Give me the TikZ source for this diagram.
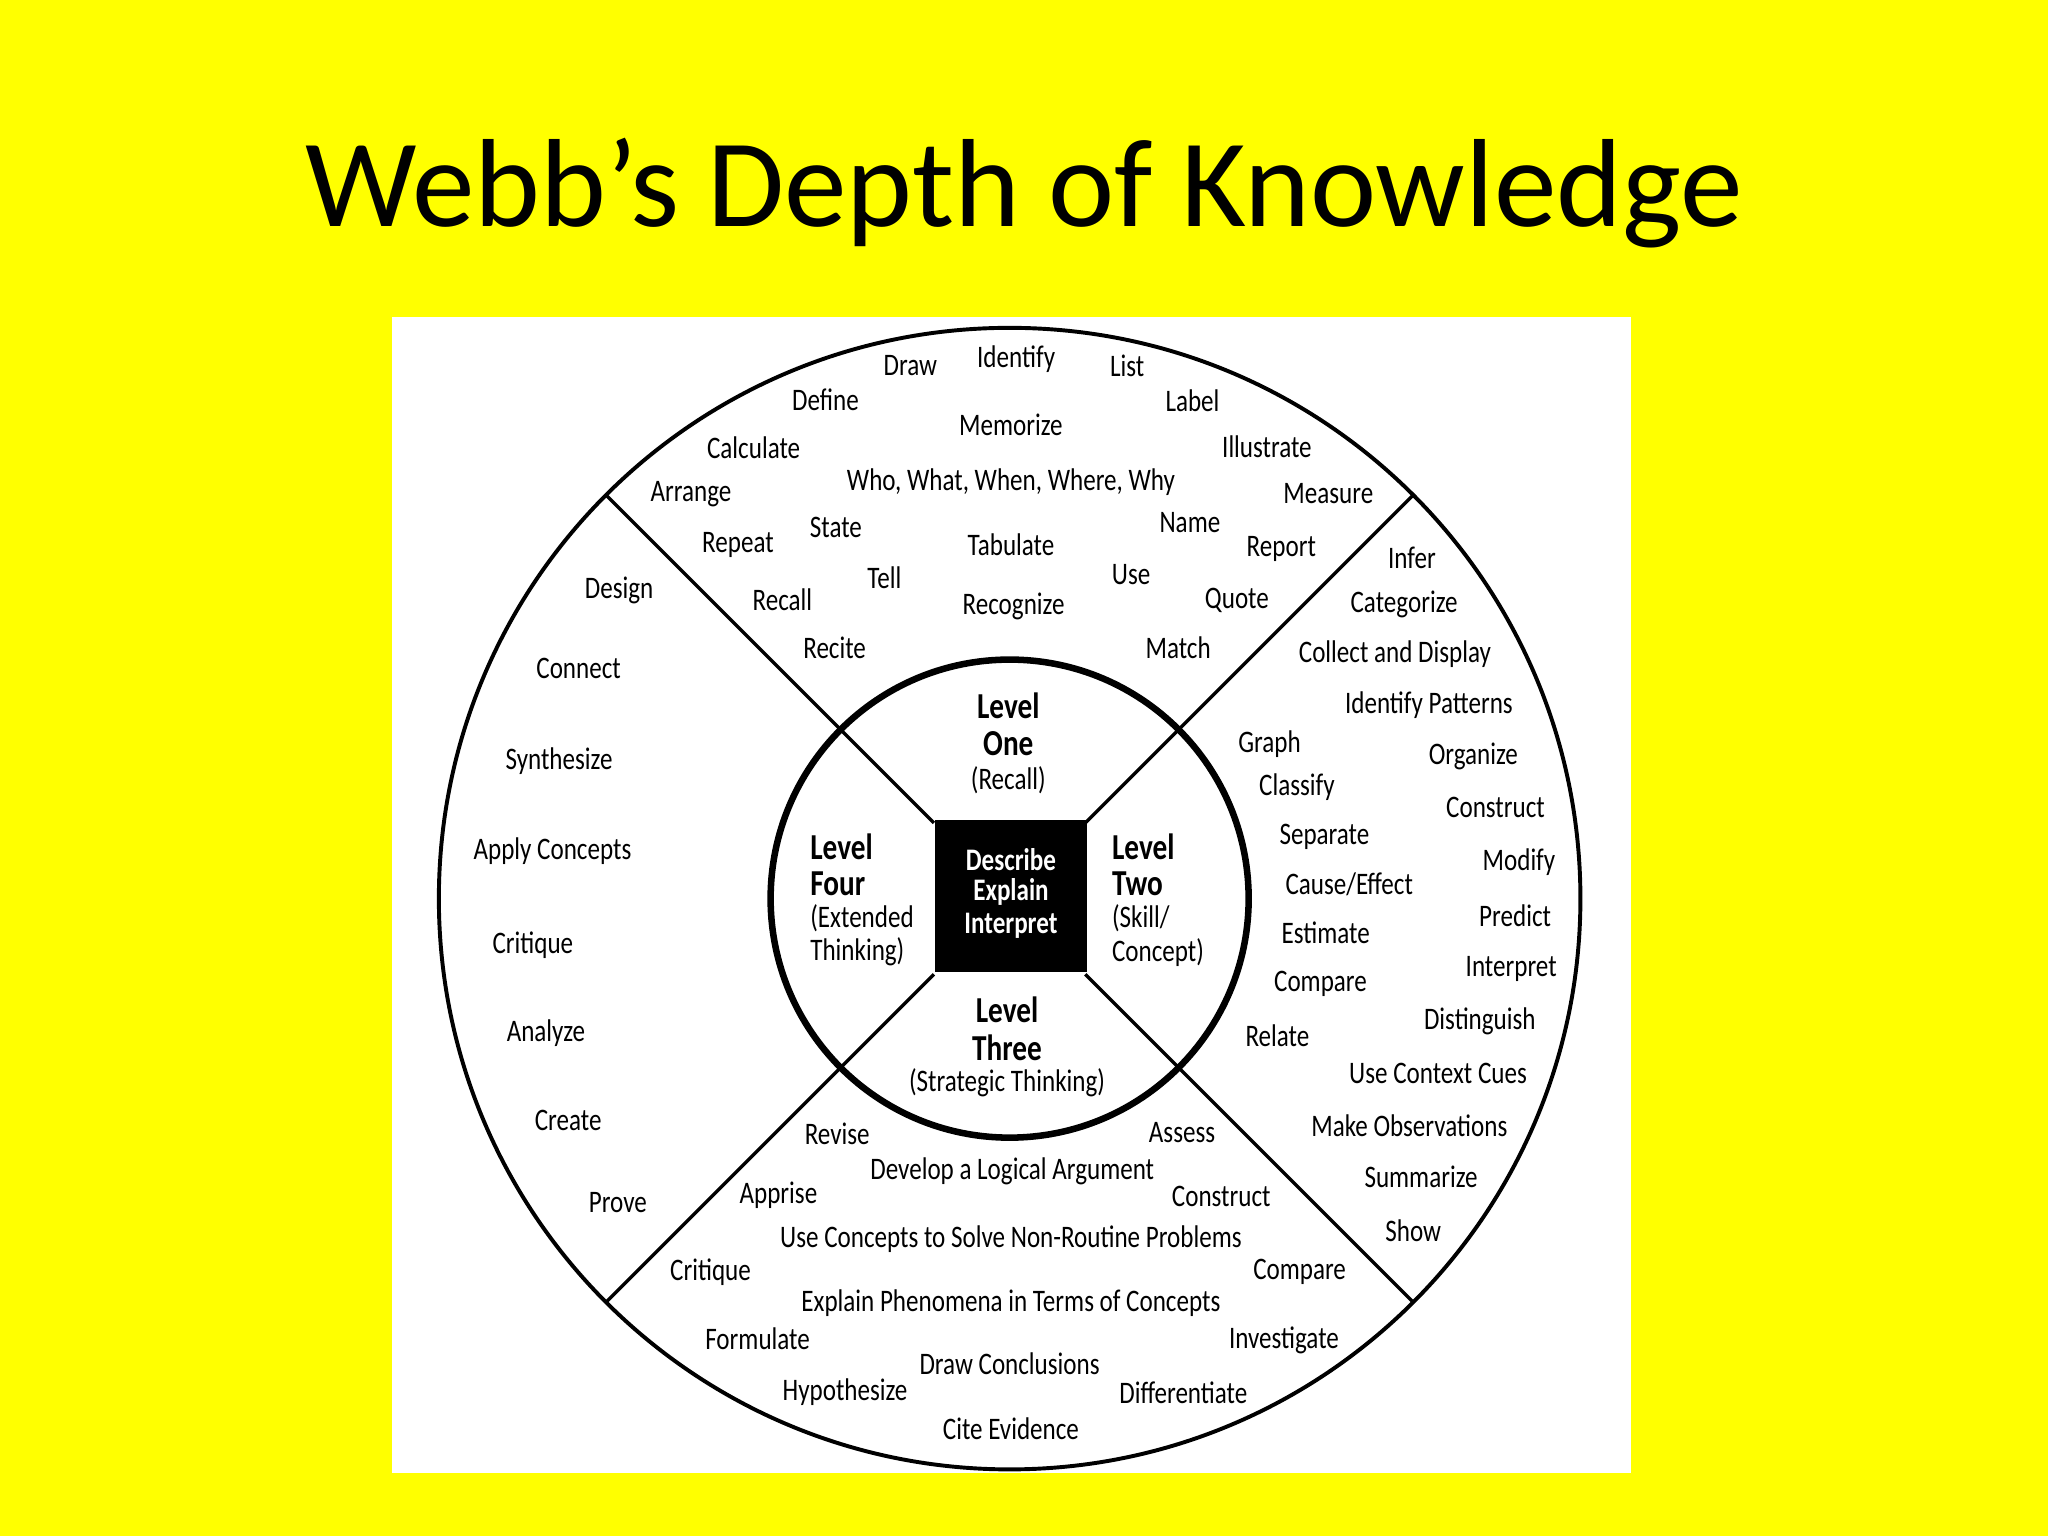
\documentclass[tikz,border=0pt]{standalone}
\usepackage{fontspec}
\setmainfont{Carlito}
\newfontfamily\cond[FakeStretch=0.8]{Carlito}
\definecolor{bgy}{RGB}{255,255,0}
\tikzset{w/.style={font=\cond\fontsize{12}{12}\selectfont,inner sep=0pt},
 lv/.style={font=\cond\bfseries\fontsize{14}{14}\selectfont,inner sep=0pt},
 lvs/.style={font=\cond\fontsize{12}{12}\selectfont,inner sep=0pt}}
\begin{document}
\begin{tikzpicture}[x=0.5pt,y=-0.5pt]
\fill[bgy] (0,0) rectangle (1568,1176);
\useasboundingbox (0,0) rectangle (1568,1176);
\node[font=\fontsize{48}{48}\selectfont] (title) at (784,148) {Webb’s Depth of Knowledge};
\fill[white] (300,243) rectangle (1249,1128);
\coordinate (c) at (773,688);
\draw[line width=1.5pt] (c) circle[radius=437*0.5pt];
\foreach \a in {45,135,225,315}{
 \draw[line width=1.3pt] (c) ++(\a:82*0.5pt) -- ++(\a:355*0.5pt);}
\fill[white] (c) circle[radius=183*0.5pt];
\foreach \a in {45,135,225,315}{
 \draw[line width=1.3pt] (c) ++(\a:82*0.5pt) -- ++(\a:101*0.5pt);}
\draw[line width=2.5pt] (c) circle[radius=183*0.5pt];
\node[fill=black,minimum size=58pt,inner sep=0pt] (sq) at (774,686) {};
\foreach \t/\y in {Describe/658,Explain/683,Interpret/709}
 \node[lv,text=white,font=\cond\bfseries\fontsize{12}{12}\selectfont] at (774,\y) {\t};
% levels
\node[lv] (l1a) at (772,540) {Level}; \node[lv] (l1b) at (772,569) {One}; \node[lvs] (l1c) at (772,597) {(Recall)};
\node[lv,anchor=west] (l2a) at (851,648) {Level}; \node[lv,anchor=west] (l2b) at (851,677) {Two};
\node[lvs,anchor=west] (l2c) at (851,703) {(Skill/}; \node[lvs,anchor=west] (l2d) at (851,729) {Concept)};
\node[lv,anchor=west] (l4a) at (620,648) {Level}; \node[lv,anchor=west] (l4b) at (620,677) {Four};
\node[lvs,anchor=west] (l4c) at (620,703) {(Extended}; \node[lvs,anchor=west] (l4d) at (620,729) {Thinking)};
\node[lv] (l3a) at (771,773) {Level}; \node[lv] (l3b) at (771,802) {Three}; \node[lvs] (l3c) at (771,829) {(Strategic Thinking)};
% words
\foreach \t/\x/\y in {Draw/697/280,Identify/778/275,List/863/280,Define/632/306,Label/913/307,Memorize/774/325,Calculate/577/343,Illustrate/970/342,{Who, What, When, Where, Why}/774/369,Arrange/529/378,Measure/1017/378,State/640/404,Name/911/400,Repeat/565/417,Tabulate/774/417,Report/981/420,Tell/677/442,Use/866/440,Recall/599/459,Recognize/776/464,Quote/947/460,Recite/639/496,Match/902/496,
Infer/1081/427,Categorize/1075/463,Collect and Display/1068/501,Identify Patterns/1094/540,Graph/972/570,Organize/1128/579,Classify/993/603,Construct/1145/618,Separate/1014/641,Modify/1163/660,{Cause/Effect}/1033/677,Predict/1160/701,Estimate/1015/714,Interpret/1157/742,Compare/1011/753,Distinguish/1133/782,Relate/978/793,Use Context Cues/1101/822,Make Observations/1079/862,Summarize/1088/901,Show/1082/942,
Revise/641/868,Assess/905/867,Develop a Logical Argument/775/897,Apprise/596/915,Construct/935/916,Use Concepts to Solve Non-Routine Problems/774/949,Critique/544/974,Compare/995/974,Explain Phenomena in Terms of Concepts/774/998,Formulate/580/1025,Investigate/983/1026,Draw Conclusions/773/1044,Hypothesize/647/1066,Differentiate/906/1066,Cite Evidence/774/1094,
Design/474/452,Connect/443/512,Synthesize/428/583,Apply Concepts/423/652,Critique/408/724,Analyze/418/791,Create/435/858,Prove/473/921}
 \node[w] at (\x,\y) {\t};
\end{tikzpicture}
\end{document}
